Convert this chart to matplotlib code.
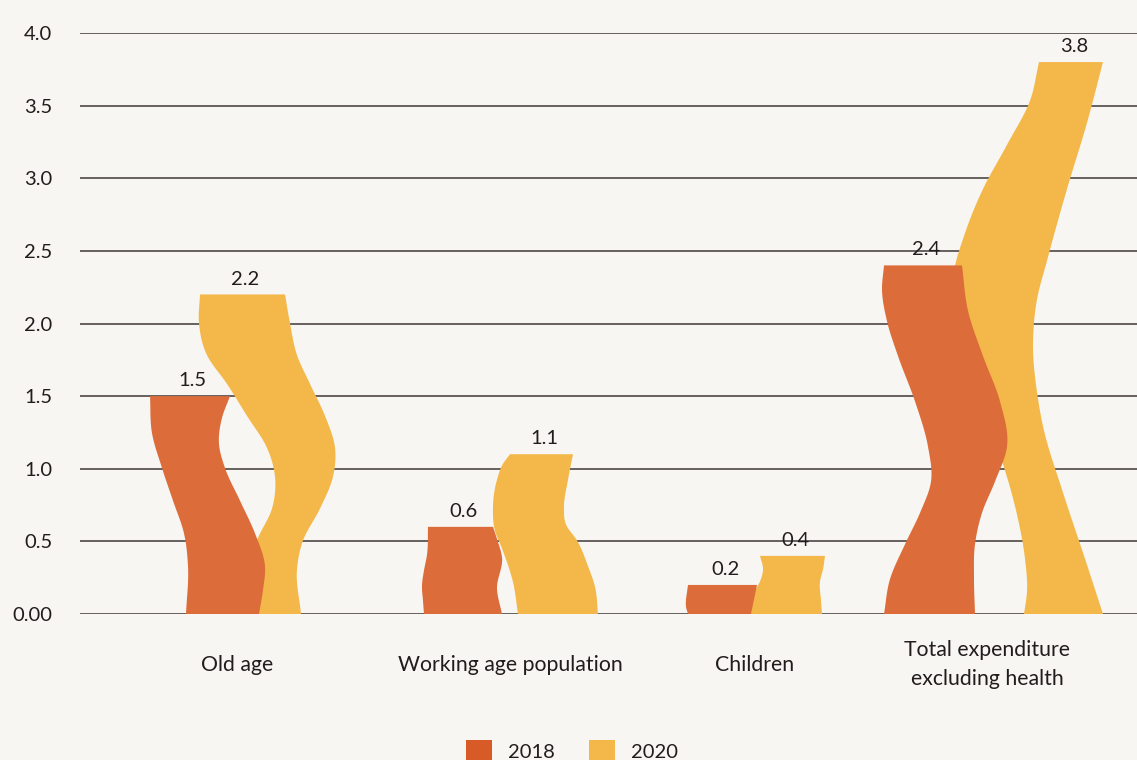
import numpy as np
import matplotlib.pyplot as plt
from matplotlib.patches import Polygon, Patch

plt.rcParams['font.family'] = ['Lato', 'DejaVu Sans']

categories = ["Old age", "Working age population", "Children",
              "Total expenditure\nexcluding health"]
years = ["2018", "2020"]
values_2018 = [1.5, 0.6, 0.2, 2.4]
values_2020 = [2.2, 1.1, 0.4, 3.8]
y_ticks = [0.0, 0.5, 1.0, 1.5, 2.0, 2.5, 3.0, 3.5, 4.0]
y_tick_labels = ["0.00", "0.5", "1.0", "1.5", "2.0", "2.5", "3.0", "3.5", "4.0"]

# layout: group centres in axis units, edge offsets in pixels (250 px per unit)
group_x = [0.0, 1.092, 2.072, 3.0]
PX = 1 / 250

BG = "#f7f6f2"
TEXT = "#231c1c"
GRID = "#3f3737"
BAR_COLORS = ["#dd6c3b", "#f3b849"]
KEY_COLORS = ["#d85a27", "#f4b84a"]

# wavy outlines: (heights for left edge, left offsets, heights for right edge, right offsets)
shapes_2018 = [
    ([0, 0.22, 0.37, 0.52, 0.67, 0.83, 1.0], [-51, -49, -53, -64, -75, -85, -87],
     [0, 0.11, 0.22, 0.37, 0.52, 0.67, 0.78, 0.90, 1.0], [22, 26, 28, 18, 3, -12, -18, -15, -7]),
    ([0, 0.15, 0.33, 0.5, 0.68, 1.0], [-86, -87, -88, -86, -83, -82],
     [0, 0.29, 0.65, 0.86, 1.0], [-8, -13, -8, -13, -17]),
    ([0, 0.25, 0.5, 0.75, 1.0], [-67, -69, -69, -68, -67],
     [0, 0.5, 1.0], [-4, -1, 2]),
    ([0, 0.10, 0.20, 0.29, 0.38, 0.48, 0.61, 0.74, 0.84, 0.93, 1.0],
     [-103, -97, -82, -67, -56, -59, -72, -89, -100, -105, -103],
     [0, 0.10, 0.20, 0.29, 0.38, 0.48, 0.61, 0.74, 0.87, 1.0],
     [-12, -13, -12, -5, 8, 20, 13, -4, -19, -25]),
]
shapes_2020 = [
    ([0, 0.14, 0.23, 0.33, 0.43, 0.52, 0.62, 0.72, 0.81, 0.91, 1.0],
     [8, 13, 20, 35, 38, 30, 10, -10, -30, -38, -37],
     [0, 0.14, 0.23, 0.33, 0.43, 0.52, 0.62, 0.72, 0.81, 0.91, 1.0],
     [64, 60, 66, 83, 96, 98, 88, 73, 60, 53, 48]),
    ([0, 0.2, 0.41, 0.52, 0.67, 0.84, 0.94, 1.0], [8, 3, -8, -15, -17, -13, -7, 0],
     [0, 0.17, 0.30, 0.46, 0.56, 0.67, 0.84, 1.0], [88, 85, 78, 67, 56, 54, 58, 63]),
    ([0, 0.34, 0.56, 0.77, 1.0], [-4, -2, 5, 8, 5],
     [0, 0.23, 0.56, 0.77, 1.0], [67, 66, 65, 68, 70]),
    ([0, 0.04, 0.10, 0.18, 0.26, 0.36, 0.45, 0.53, 0.61, 0.69, 0.77, 0.85, 0.93, 1.0],
     [37, 40, 38, 30, 18, -2, -22, -32, -34, -22, -4, 20, 43, 52],
     [0, 0.10, 0.22, 0.34, 0.39, 0.49, 0.57, 0.64, 0.77, 0.89, 1.0],
     [116, 98, 76, 56, 51, 46, 50, 60, 80, 100, 116]),
]


def smooth_edge(f_pts, x_pts, n=150):
    # cubic hermite through the outline points
    f_pts = np.asarray(f_pts, float)
    x_pts = np.asarray(x_pts, float)
    m = np.gradient(x_pts, f_pts)
    ff = np.linspace(0, 1, n)
    i = np.clip(np.searchsorted(f_pts, ff, side='right') - 1, 0, len(f_pts) - 2)
    h = f_pts[i + 1] - f_pts[i]
    t = (ff - f_pts[i]) / h
    x = ((2 * t**3 - 3 * t**2 + 1) * x_pts[i] + (t**3 - 2 * t**2 + t) * h * m[i]
         + (-2 * t**3 + 3 * t**2) * x_pts[i + 1] + (t**3 - t**2) * h * m[i + 1])
    return ff, x


def wavy_bar(ax, cx, value, shape, color, z):
    fl, xl, fr, xr = shape
    f1, left = smooth_edge(fl, xl)
    f2, right = smooth_edge(fr, xr)
    pts = np.vstack([
        np.column_stack([cx + left * PX, f1 * value]),
        np.column_stack([cx + right[::-1] * PX, f2[::-1] * value]),
    ])
    ax.add_patch(Polygon(pts, closed=True, facecolor=color, edgecolor='none', zorder=z))
    top_mid = cx + (xl[-1] + xr[-1]) / 2 * PX
    ax.annotate(f"{value:.1f}", (top_mid, value), xytext=(2, 5), textcoords='offset points',
                ha='center', va='bottom', fontsize=14.5, color=TEXT, zorder=5)


fig = plt.figure(figsize=(11.37, 7.6), dpi=100, facecolor=BG)
ax = fig.add_axes([80 / 1137, 146 / 760, 1057 / 1137, 581 / 760])
ax.set_facecolor(BG)

for y in y_ticks:
    ax.axhline(y, color=GRID, lw=1.1, zorder=1)

for i, cx in enumerate(group_x):
    wavy_bar(ax, cx, values_2020[i], shapes_2020[i], BAR_COLORS[1], 2)
    wavy_bar(ax, cx, values_2018[i], shapes_2018[i], BAR_COLORS[0], 3)
    ax.text(cx, -0.35, categories[i], ha='center', va='center', fontsize=15.3,
            color=TEXT, linespacing=1.55)

ax.set_xlim(-0.628, 3.6)
ax.set_ylim(0, 4.0)
ax.set_xticks([])
ax.set_yticks(y_ticks)
ax.set_yticklabels(y_tick_labels)
ax.tick_params(axis='y', length=0, pad=20, labelsize=14.5, labelcolor=TEXT)
for s in ax.spines.values():
    s.set_visible(False)

handles = [Patch(facecolor=c, edgecolor='none') for c in KEY_COLORS]
fig.legend(handles, years, loc='center', bbox_to_anchor=(0.503, 0.012), ncol=2,
           frameon=False, fontsize=14.5, handlelength=1.3, handleheight=1.3,
           handletextpad=0.8, columnspacing=1.7, labelcolor=TEXT)

fig.savefig("out.png", dpi=100, facecolor=BG)
